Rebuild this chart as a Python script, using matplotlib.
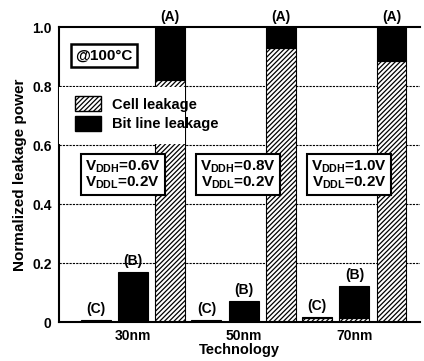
import numpy as np
import matplotlib
matplotlib.use("Agg")
import matplotlib.pyplot as plt
from matplotlib.patches import Patch, Rectangle

plt.rcParams['font.family'] = ['Liberation Sans', 'DejaVu Sans']
plt.rcParams['font.weight'] = 'bold'
plt.rcParams['mathtext.fontset'] = 'custom'
plt.rcParams['mathtext.rm'] = 'Liberation Sans:bold'
plt.rcParams['mathtext.it'] = 'Liberation Sans:bold'
plt.rcParams['mathtext.bf'] = 'Liberation Sans:bold'
plt.rcParams['hatch.linewidth'] = 0.9

# ---- data ----
technologies = ['30nm', '50nm', '70nm']
cases = ['(C)', '(B)', '(A)']
# cell leakage per case, rows = technology, cols = C, B, A
cell_leak = [[0.000, 0.000, 0.820],
             [0.000, 0.000, 0.930],
             [0.015, 0.012, 0.885]]
# bit line leakage
bitline_leak = [[0.008, 0.170, 0.180],
                [0.008, 0.072, 0.070],
                [0.002, 0.111, 0.115]]
vddh = ['0.6V', '0.8V', '1.0V']
vddl = ['0.2V', '0.2V', '0.2V']
yticks = [0, 0.2, 0.4, 0.6, 0.8, 1.0]
ytick_labels = ['0', '0.2', '0.4', '0.6', '0.8', '1.0']

fig = plt.figure(figsize=(4.24, 3.61), dpi=100)
ax = fig.add_axes([0.138, 0.108, 0.852, 0.817])

width = 0.27
offsets = [-0.335, 0.0, 0.335]
x = np.arange(len(technologies))

for i in range(len(technologies)):
    for j in range(len(cases)):
        xp = x[i] + offsets[j]
        c = cell_leak[i][j]
        b = bitline_leak[i][j]
        if c > 0:
            ax.bar(xp, c, width, color='white', edgecolor='black',
                   hatch='///////', linewidth=0.8, zorder=2)
        ax.bar(xp, b, width, bottom=c, color='black', edgecolor='black',
               linewidth=0.8, zorder=2)
        ax.text(xp, c + b + 0.012, cases[j], ha='center', va='bottom',
                fontsize=10, fontweight='bold', zorder=5)

# voltage boxes, one per technology
box_x = [-0.09, 0.95, 1.95]
for i in range(len(technologies)):
    ax.text(box_x[i], 0.50,
            r'$V_{DDH}$=' + vddh[i] + '\n' + r'$V_{DDL}$=' + vddl[i],
            ha='center', va='center', fontsize=11, fontweight='bold',
            linespacing=1.0, zorder=6,
            bbox=dict(boxstyle='square,pad=0.25', fc='white', ec='black', lw=1.5))

ax.text(-0.26, 0.903, '@100\u00b0C', ha='center', va='center', fontsize=11,
        fontweight='bold', zorder=6,
        bbox=dict(boxstyle='square,pad=0.3', fc='white', ec='black', lw=1.8))

# white area behind the legend (it covers the 30nm (A) bar)
ax.add_patch(Rectangle((-0.67, 0.603), 1.14, 0.194, facecolor='white',
                       edgecolor='none', zorder=4))
handles = [Patch(facecolor='white', edgecolor='black', hatch='///////', label='Cell leakage'),
           Patch(facecolor='black', edgecolor='black', label='Bit line leakage')]
leg = ax.legend(handles=handles, loc='upper left', bbox_to_anchor=(0.03, 0.785),
                frameon=False, fontsize=10.5, handlelength=1.75, handleheight=1.2,
                handletextpad=0.8, labelspacing=0.3, borderaxespad=0)
leg.set_zorder(7)

ax.set_xlim(-0.67, 2.59)
ax.set_ylim(0, 1.0)
ax.set_yticks(yticks)
ax.set_yticklabels(ytick_labels, fontsize=10, fontweight='bold')
ax.set_xticks(x)
ax.set_xticklabels(technologies, fontsize=10, fontweight='bold')
ax.tick_params(axis='both', length=0, pad=5)
ax.set_xlabel('Technology', fontsize=10.5, fontweight='bold', labelpad=0)
ax.set_ylabel('Normalized leakage power', fontsize=11, fontweight='bold', labelpad=4)

for v in [0.2, 0.4, 0.6, 0.8]:
    ax.axhline(v, color='black', lw=0.8, ls=(0, (2, 1)), zorder=1)

ax.spines['right'].set_visible(False)
for s in ['left', 'bottom', 'top']:
    ax.spines[s].set_linewidth(1.5)
    ax.spines[s].set_zorder(3)

fig.savefig('out.png', dpi=100, facecolor='white')
